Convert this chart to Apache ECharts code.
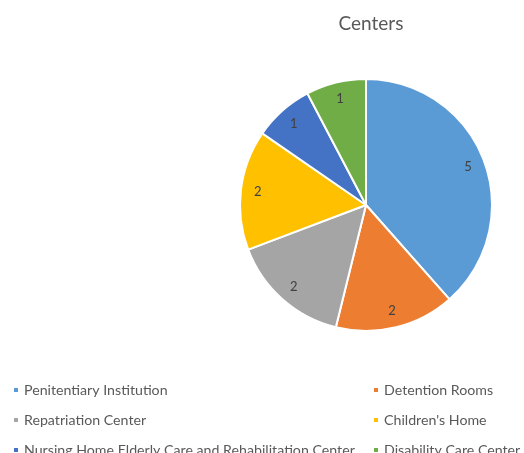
<!DOCTYPE html>
<html>
<head>
<meta charset="utf-8">
<script src="https://cdn.jsdelivr.net/npm/echarts@6/dist/echarts.min.js"></script>
<style>
  html, body { margin: 0; padding: 0; background: #ffffff; }
  #chart { width: 524px; height: 453px; }
</style>
</head>
<body>
<div id="chart"></div>
<script>
// Centre types and how many of each
const categories = [
  'Penitentiary Institution',
  'Detention Rooms',
  'Repatriation Center',
  "Children's Home",
  'Nursing Home Elderly Care and Rehabilitation Center',
  'Disability Care Center'
];
const counts = [5, 2, 2, 2, 1, 1];
const colors = ['#5B9BD5', '#ED7D31', '#A5A5A5', '#FFC000', '#4472C4', '#70AD47'];

const FONT = 'Lato, "Open Sans", sans-serif';
const slices = categories.map((name, i) => ({ name, value: counts[i] }));

const chart = echarts.init(document.getElementById('chart'), null, { renderer: 'canvas' });

const legendCommon = {
  orient: 'vertical',
  icon: 'rect',
  itemWidth: 6,
  itemHeight: 6,
  itemGap: 14,
  itemTextGap: 5,
  height: 120,
  padding: 0,
  selectedMode: false,
  textStyle: { color: '#595959', fontSize: 14.2, fontFamily: FONT, lineHeight: 16 }
};

chart.setOption({
  animation: false,
  color: colors,
  title: {
    text: 'Centers',
    left: 366,
    top: 9,
    textAlign: 'center',
    textStyle: { color: '#595959', fontSize: 19, fontWeight: 'normal', fontFamily: FONT }
  },
  legend: [
    Object.assign({ left: 12, top: 382, data: [categories[0], categories[2], categories[4]] }, legendCommon),
    Object.assign({ left: 372, top: 382, data: [categories[1], categories[3], categories[5]] }, legendCommon)
  ],
  series: [
    {
      type: 'pie',
      center: [366, 205],
      radius: [0, 126],
      startAngle: 90,
      clockwise: true,
      silent: true,
      data: slices,
      itemStyle: { borderColor: '#ffffff', borderWidth: 2 },
      label: { show: false },
      labelLine: { show: false }
    },
    {
      // transparent ring that only carries the value labels
      type: 'pie',
      center: [366, 205],
      radius: [0, 212],
      startAngle: 90,
      clockwise: true,
      silent: true,
      data: slices,
      itemStyle: { color: 'rgba(0,0,0,0)', borderWidth: 0 },
      label: {
        show: true,
        position: 'inside',
        formatter: '{c}',
        color: '#404040',
        fontSize: 13,
        fontFamily: FONT
      },
      labelLine: { show: false }
    }
  ]
});
</script>
</body>
</html>
